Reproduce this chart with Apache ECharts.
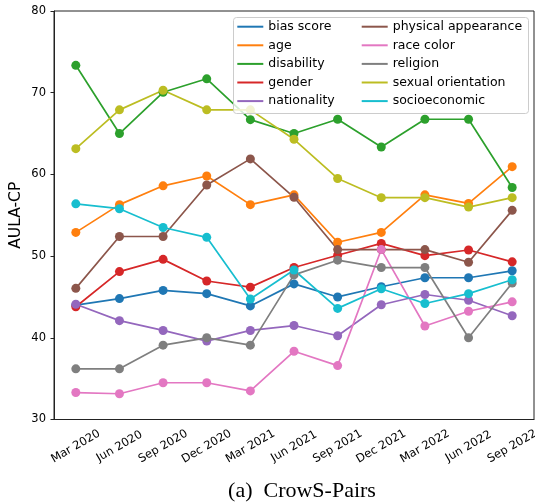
<!DOCTYPE html>
<html>
<head>
<meta charset="utf-8">
<script src="https://cdn.jsdelivr.net/npm/echarts@6/dist/echarts.min.js"></script>
<style>html,body{margin:0;padding:0;background:#fff;}#c{width:535px;height:504px;}</style>
</head>
<body>
<div id="c"></div>
<script>
const categories = ['Mar 2020','Jun 2020','Sep 2020','Dec 2020','Mar 2021','Jun 2021','Sep 2021','Dec 2021','Mar 2022','Jun 2022','Sep 2022'];
const yTicks = [30, 40, 50, 60, 70, 80];
const biasScore = [44.0, 44.8, 45.8, 45.4, 43.9, 46.6, 45.0, 46.25, 47.35, 47.35, 48.2];
const age = [52.9, 56.3, 58.6, 59.8, 56.3, 57.5, 51.7, 52.9, 57.5, 56.45, 60.95];
const disability = [73.35, 65.0, 70.05, 71.7, 66.7, 65.0, 66.75, 63.35, 66.75, 66.75, 58.4];
const gender = [43.8, 48.1, 49.6, 46.95, 46.2, 48.6, 50.1, 51.55, 50.05, 50.75, 49.3];
const nationality = [44.1, 42.1, 40.9, 39.6, 40.9, 41.5, 40.25, 44.05, 45.3, 44.6, 42.7];
const physicalAppearance = [46.05, 52.4, 52.4, 58.7, 61.9, 57.2, 50.8, 50.8, 50.8, 49.25, 55.6];
const raceColor = [33.3, 33.15, 34.5, 34.5, 33.5, 38.35, 36.6, 50.8, 41.45, 43.25, 44.4];
const religion = [36.2, 36.2, 39.1, 40.0, 39.1, 47.7, 49.5, 48.6, 48.6, 40.0, 46.7];
const sexualOrientation = [63.15, 67.9, 70.3, 67.9, 67.9, 64.3, 59.5, 57.15, 57.15, 56.0, 57.15];
const socioeconomic = [56.4, 55.8, 53.5, 52.3, 44.75, 48.3, 43.6, 46.0, 44.2, 45.4, 47.1];

const seriesNames = ['bias score','age','disability','gender','nationality','physical appearance','race color','religion','sexual orientation','socioeconomic'];
const seriesData = [biasScore, age, disability, gender, nationality, physicalAppearance, raceColor, religion, sexualOrientation, socioeconomic];
const colors = ['#1f77b4','#ff7f0e','#2ca02c','#d62728','#9467bd','#8c564b','#e377c2','#7f7f7f','#bcbd22','#17becf'];

const chart = echarts.init(document.getElementById('c'), null, {renderer: 'canvas'});
const legendCommon = {
  orient: 'vertical',
  top: 19.7,
  padding: 0,
  itemWidth: 26,
  itemHeight: 2,
  itemGap: 4.6,
  icon: 'rect',
  itemStyle: {borderWidth: 0},
  textStyle: {fontFamily: 'DejaVu Sans', fontSize: 12.5, color: '#000', lineHeight: 14, padding: [0,0,0,0]},
  itemTextGap: 10,
  selectedMode: false
};
const option = {
  animation: false,
  color: colors,
  title: {
    text: '(a)  CrowS-Pairs',
    left: 297, top: 475, textAlign: 'center',
    textStyle: {fontFamily: 'Liberation Serif', fontSize: 22, fontWeight: 'normal', color: '#000'}
  },
  graphic: [{
    type: 'rect', left: 233, top: 17, z: 90,
    shape: {width: 295, height: 96, r: 3},
    style: {fill: 'rgba(255,255,255,0.8)', stroke: '#cccccc', lineWidth: 1}
  }],
  legend: [
    Object.assign({}, legendCommon, {left: 237.3, data: seriesNames.slice(0,5), z: 100}),
    Object.assign({}, legendCommon, {left: 361.7, data: seriesNames.slice(5), z: 100})
  ],
  grid: {left: 54, right: 1, top: 11, bottom: 84.5, show: true, borderColor: '#222', borderWidth: 1, containLabel: false, outerBoundsMode: 'none'},
  xAxis: {
    type: 'category', data: categories, boundaryGap: true,
    axisLine: {lineStyle: {color: '#222', width: 1}},
    axisTick: {alignWithLabel: true, length: 3.5, lineStyle: {color: '#222'}},
    axisLabel: {rotate: 30, align: 'center', verticalAlign: 'middle', margin: 27, fontFamily: 'DejaVu Sans', fontSize: 11.5, color: '#000', interval: 0, hideOverlap: false},
    splitLine: {show: false}
  },
  yAxis: {
    type: 'value', min: yTicks[0], max: yTicks[yTicks.length-1], interval: 10,
    name: 'AULA-CP', nameLocation: 'middle', nameGap: 30, nameRotate: 90, nameMoveOverlap: false,
    nameTextStyle: {fontFamily: 'DejaVu Sans', fontSize: 15.5, color: '#000'},
    axisLine: {show: true, lineStyle: {color: '#222', width: 1}},
    axisTick: {show: true, length: 3.5, lineStyle: {color: '#222'}},
    axisLabel: {margin: 8, fontFamily: 'DejaVu Sans', fontSize: 11.5, color: '#000'},
    splitLine: {show: false}
  },
  series: seriesNames.map((n, i) => ({
    name: n, type: 'line', data: seriesData[i],
    symbol: 'circle', symbolSize: 9, showSymbol: true,
    lineStyle: {width: 1.7, color: colors[i]},
    itemStyle: {color: colors[i], borderWidth: 0},
    emphasis: {disabled: true}
  }))
};
chart.setOption(option);
</script>
</body>
</html>
